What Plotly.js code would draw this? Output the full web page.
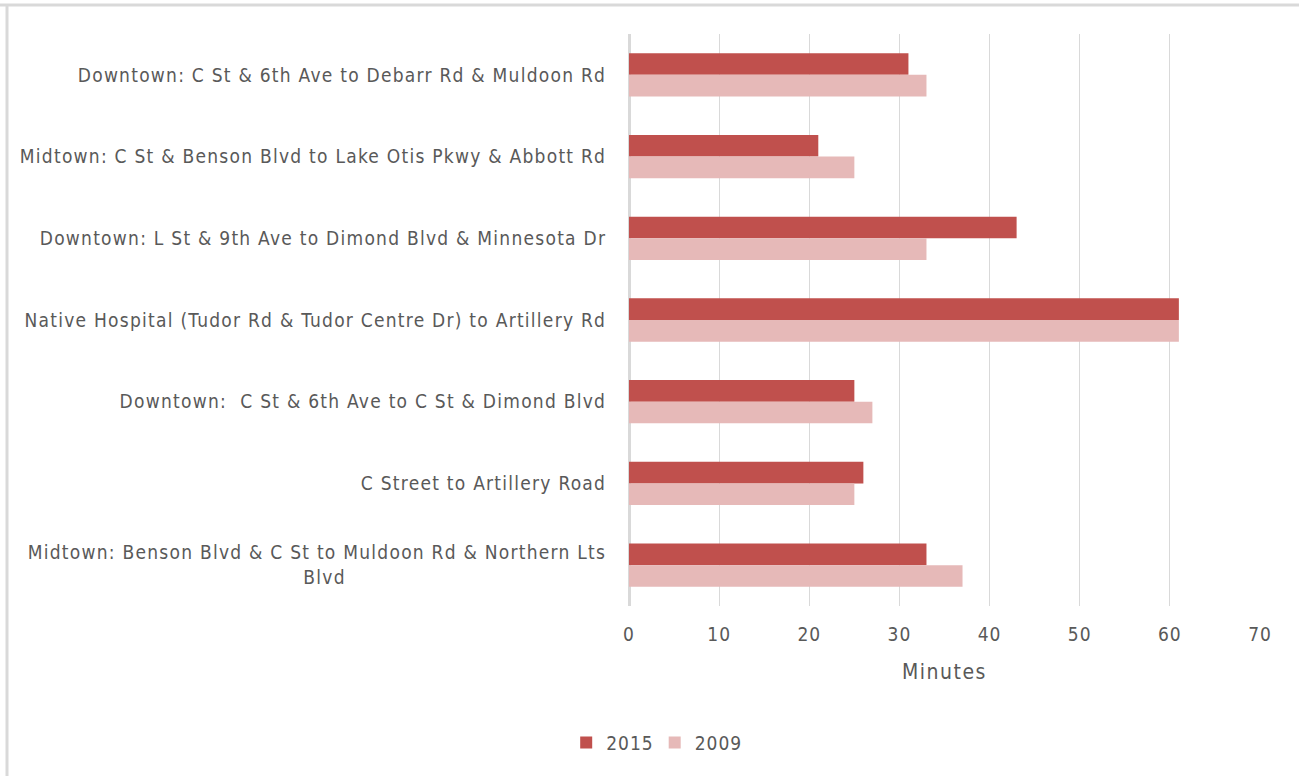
<!DOCTYPE html>
<html>
<head>
<meta charset="utf-8">
<script src="https://cdn.plot.ly/plotly-3.0.1.min.js"></script>
<style>
  html, body { margin: 0; padding: 0; background: #ffffff; }
  #chart { width: 1299px; height: 776px; }
  /* open up the condensed face a little, like the spreadsheet rendering */
  #chart .ytick text { letter-spacing: 1.25px; }
  #chart .xtick text { letter-spacing: 1px; }
  #chart .xtitle { letter-spacing: 1.5px; }
  #chart .legendtext { letter-spacing: 1px; }
</style>
</head>
<body>
<div id="chart"></div>
<script>
// Travel-time routes, listed top to bottom
const routes = [
  "Downtown: C St & 6th Ave to Debarr Rd & Muldoon Rd",
  "Midtown: C St & Benson Blvd to Lake Otis Pkwy & Abbott Rd",
  "Downtown: L St & 9th Ave to Dimond Blvd & Minnesota Dr",
  "Native Hospital (Tudor Rd & Tudor Centre Dr) to Artillery Rd",
  "Downtown:  C St & 6th Ave to C St & Dimond Blvd",
  "C Street to Artillery Road",
  "Midtown: Benson Blvd & C St to Muldoon Rd & Northern Lts<br>Blvd" + "\u00a0".repeat(39)
];

// Minutes per route
const minutes2015 = [31, 21, 43, 61, 25, 26, 33];
const minutes2009 = [33, 25, 33, 61, 27, 25, 37];

const xTicks = [0, 10, 20, 30, 40, 50, 60, 70];

const labelFont = "'Liberation Sans Narrow', 'DejaVu Sans Condensed', Arial, sans-serif";
const textGray = "#595959";

const traces = [
  {
    type: "bar", orientation: "h", name: "2015",
    y: routes, x: minutes2015,
    marker: { color: "#c0504d" },
    hoverinfo: "x+name"
  },
  {
    type: "bar", orientation: "h", name: "2009",
    y: routes, x: minutes2009,
    marker: { color: "#e6b9b8" },
    hoverinfo: "x+name"
  }
];

const layout = {
  width: 1299, height: 776,
  paper_bgcolor: "#ffffff", plot_bgcolor: "#ffffff",
  margin: { l: 629, r: 39, t: 34, b: 170 },
  barmode: "group",
  bargap: 0.47,
  bargroupgap: 0,
  font: { family: labelFont, color: textGray, size: 19 },
  xaxis: {
    range: [0, 70],
    tickvals: xTicks,
    ticktext: xTicks.map(String),
    showgrid: true, gridcolor: "#d9d9d9", gridwidth: 1.3,
    zeroline: true, zerolinecolor: "#d9d9d9", zerolinewidth: 2.5,
    showline: false,
    ticks: "outside", ticklen: 11, tickcolor: "rgba(0,0,0,0)",
    tickfont: { family: labelFont, size: 19, color: textGray },
    title: { text: "Minutes", font: { family: labelFont, size: 21, color: textGray }, standoff: 20 },
    fixedrange: true
  },
  yaxis: {
    autorange: "reversed",
    showgrid: false, zeroline: false, showline: false,
    ticks: "outside", ticklen: 18, tickcolor: "rgba(0,0,0,0)",
    tickfont: { family: labelFont, size: 19, color: textGray },
    fixedrange: true
  },
  showlegend: true,
  legend: {
    orientation: "h",
    xref: "container", yref: "container",
    x: 0.504, xanchor: "center",
    y: 0.043, yanchor: "middle",
    font: { family: labelFont, size: 19, color: textGray },
    itemwidth: 30,
    traceorder: "normal"
  },
  shapes: [
    { type: "line", xref: "paper", yref: "paper", layer: "below",
      x0: -629 / 631, x1: 1.1, y0: 1 + 29 / 572, y1: 1 + 29 / 572,
      line: { color: "#d9d9d9", width: 3 } },
    { type: "line", xref: "paper", yref: "paper", layer: "below",
      x0: -622 / 631, x1: -622 / 631, y0: 1 + 29 / 572, y1: -1,
      line: { color: "#d9d9d9", width: 3 } }
  ]
};

Plotly.newPlot("chart", traces, layout, { displayModeBar: false });
</script>
</body>
</html>
